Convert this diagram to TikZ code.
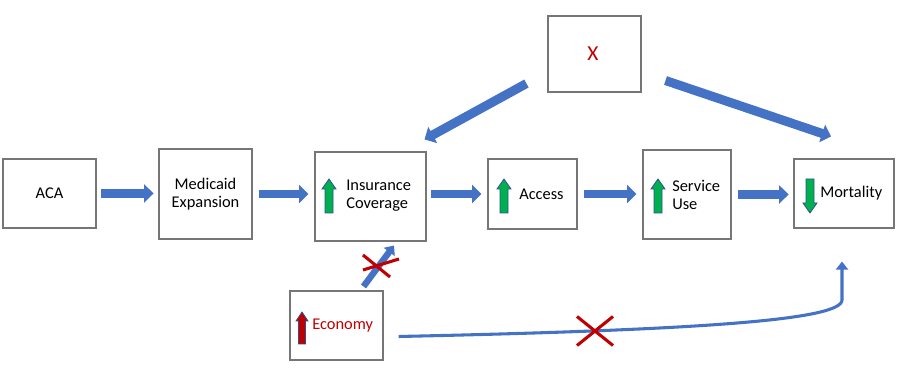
\documentclass[tikz,border=0pt]{standalone}
\usepackage{fontspec}
\setmainfont{Carlito}
\usetikzlibrary{arrows.meta,calc}
\definecolor{flow}{HTML}{4472C4}
\definecolor{rise}{HTML}{00B050}
\definecolor{cross}{HTML}{C00000}
\definecolor{frame}{HTML}{767676}
\definecolor{edge}{HTML}{2F528F}

\begin{document}
\begin{tikzpicture}[x=0.75pt,y=-0.75pt,
  font=\fontsize{12.3}{13.5}\selectfont,
  box/.style={draw=frame,line width=0.8pt,fill=white,inner sep=0pt},
  label/.style={inner sep=0pt,align=left},
  block/.style={flow,line width=6.5pt,
    -{Triangle[length=7pt,width=13.5pt]}},
  thinblock/.style={flow,line width=4.8pt,
    -{Triangle[length=6pt,width=10pt]}},
  cut/.style={cross,line width=2.3pt},
  updir/.style={draw=edge,fill=rise,line width=0.6pt}]
  \useasboundingbox (0,0) rectangle (904,391);

  % Causal chain
  \node[box,minimum width=69.75pt,minimum height=51.75pt] (aca) at (49.5,193.5) {};
  \node[box,minimum width=69.75pt,minimum height=67.5pt] (med) at (205.5,194) {};
  \node[box,minimum width=83.25pt,minimum height=66.75pt] (ins) at (370.5,196.5) {};
  \node[box,minimum width=66.75pt,minimum height=52.5pt] (acc) at (532.5,194) {};
  \node[box,minimum width=66pt,minimum height=66.75pt] (svc) at (687,194.5) {};
  \node[box,minimum width=75pt,minimum height=51.75pt] (mort) at (844,193.5) {};

  \node[label] (acatext) at (aca) {ACA};
  \node[label,align=center] (medtext) at (med) {Medicaid\\Expansion};
  \node[label,anchor=west] (instext) at (346,196) {Insurance\\Coverage};
  \node[label,anchor=west] (acctext) at (519,194) {Access};
  \node[label,anchor=west] (svctext) at (672,195) {Service\\Use};
  \node[label,anchor=west] (morttext) at (820,193) {Mortality};

  \draw[block,shorten <=3.7pt,shorten >=3.7pt] (aca.east) -- (aca.east -| med.west);
  \draw[block,shorten <=4.5pt,shorten >=4.5pt] (med.east) -- (med.east -| ins.west);
  \draw[block,shorten <=3.7pt,shorten >=4.5pt] (ins.east |- acc.west) -- (acc.west);
  \draw[block,shorten <=5pt,shorten >=4.5pt] (acc.east) -- (acc.east -| svc.west);
  \draw[block,shorten <=5pt,shorten >=3.7pt] (svc.east) -- (svc.east -| mort.west);

  % Direction of change
  \filldraw[updir,shift={(329,196)}]
    (-4,17)--(4,17)--(4,-7)--(7,-7)--(0,-17)--(-7,-7)--(-4,-7)--cycle;
  \filldraw[updir,shift={(504,196)}]
    (-4,17)--(4,17)--(4,-7)--(7,-7)--(0,-17)--(-7,-7)--(-4,-7)--cycle;
  \filldraw[updir,shift={(658,196)}]
    (-4,17)--(4,17)--(4,-7)--(7,-7)--(0,-17)--(-7,-7)--(-4,-7)--cycle;
  \filldraw[updir,shift={(810,196)},yscale=-1]
    (-4,17)--(4,17)--(4,-7)--(7,-7)--(0,-17)--(-7,-7)--(-4,-7)--cycle;

  % Confounder X
  \node[box,minimum width=69.75pt,minimum height=57pt] (xbox) at (594.5,54) {};
  \node[label,text=cross,font=\fontsize{16}{18}\selectfont] (xtext) at (593,54) {X};
  \coordinate (xleft) at ($(xbox.south west)+(-21,-9)$);
  \coordinate (xright) at ($(xbox.south east)+(24,-12)$);
  \coordinate (instop) at ($(ins.north east)+(-2,-12)$);
  \coordinate (morttop) at ($(mort.north)+(-13,-22)$);
  \draw[block,line width=6.8pt] (xleft) -- (instop);
  \draw[block,line width=6.8pt] (xright) -- (morttop);

  % Economy
  \node[box,minimum width=69.75pt,minimum height=51.75pt] (econ) at (336.5,325.5) {};
  \node[label,anchor=west,text=cross] (econtext) at (312,326) {Economy};
  \filldraw[updir,fill=cross,shift={(302,328)}]
    (-3.5,16)--(3.5,16)--(3.5,-7)--(6,-7)--(0,-16)--(-6,-7)--(-3.5,-7)--cycle;
  \coordinate (econtop) at ($(econ.north)+(27,-4)$);
  \coordinate (insbottom) at ($(ins.south)+(23.5,4)$);
  \draw[thinblock] (econtop) -- (insbottom);
  \coordinate (cut1) at (376,266);
  \draw[cut] ($(cut1)+(-13,-11)$) -- ($(cut1)+(14,11)$);
  \draw[cut] ($(cut1)+(-13,4)$) -- ($(cut1)+(23,-7)$);

  \coordinate (econright) at ($(econ.east)+(15,11)$);
  \coordinate (mortlow) at ($(mort.south)+(-2,33)$);
  \draw[flow,line width=2.3pt,-{Triangle[length=6pt,width=9pt]}]
    (econright) .. controls (700,330) and (842,320) .. (842,300) -- (mortlow);
  \coordinate (cut2) at (595,331);
  \draw[cut] ($(cut2)+(-18,-14.5)$) -- ($(cut2)+(18,14.5)$);
  \draw[cut] ($(cut2)+(-18,14.5)$) -- ($(cut2)+(18,-14.5)$);
\end{tikzpicture}
\end{document}
